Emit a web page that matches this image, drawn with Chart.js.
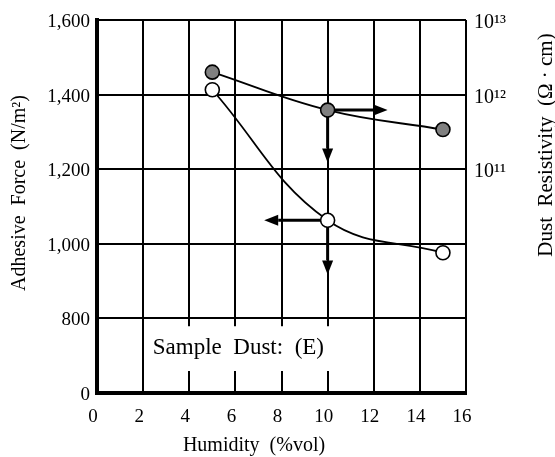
<!DOCTYPE html>
<html>
<head>
<meta charset="utf-8">
<script src="https://cdn.jsdelivr.net/npm/chart.js@4/dist/chart.umd.min.js"></script>
<style>body{margin:0;background:#fff;}</style>
</head>
<body>
<canvas id="dustChart" width="555" height="457"></canvas>
<script>
// humidity (%vol) for both series
var humidity = [5, 10, 15];
// open circles -> left axis, adhesive force N/m2
var adhesiveForce = [1413, 1063, 976];
// filled circles -> right axis, dust resistivity ohm*cm
var resistivity = [2.0e12, 6.2e11, 3.4e11];

var xTicks = [0, 2, 4, 6, 8, 10, 12, 14, 16];
// left axis is broken: bottom line is labelled 0
var forceTicks = [600, 800, 1000, 1200, 1400, 1600];
var forceTickLabels = ['0', '800', '1,000', '1,200', '1,400', '1,600'];
var resistTicks = [1e11, 1e12, 1e13];
var resistTickLabels = ['10\u00B9\u00B9', '10\u00B9\u00B2', '10\u00B9\u00B3'];

// arrows pointing to the axis each curve belongs to (axis units)
var arrows = [
    {axis: 'yR', x0: 10, y0: 6.2e11, x1: 12.6, y1: 6.2e11},
    {axis: 'yR', x0: 10, y0: 6.2e11, x1: 10, y1: 1.23e11},
    {axis: 'yL', x0: 10, y0: 1063, x1: 7.25, y1: 1063},
    {axis: 'yL', x0: 10, y0: 1063, x1: 10, y1: 918}
];

var serif = "'Liberation Serif', 'DejaVu Serif', serif";

function toPoints(ys) {
    return humidity.map(function (x, i) { return {x: x, y: ys[i]}; });
}

var decor = {
    id: 'decor',
    beforeDatasetsDraw: function (chart) {
        var c = chart.ctx, sx = chart.scales.x, sy = chart.scales.yL;
        // white label box over the grid
        var bx0 = sx.getPixelForValue(2.05), bx1 = sx.getPixelForValue(10.9);
        var by0 = sy.getPixelForValue(779), by1 = sy.getPixelForValue(659);
        c.save();
        c.fillStyle = '#fff';
        c.fillRect(bx0, by0, bx1 - bx0, by1 - by0);
        c.fillStyle = '#000';
        c.font = '23px ' + serif;
        c.textBaseline = 'alphabetic';
        c.fillText('Sample  Dust:  (E)', sx.getPixelForValue(2.42), sy.getPixelForValue(705));
        // arrows
        arrows.forEach(function (a) {
            var ys = chart.scales[a.axis];
            var px0 = sx.getPixelForValue(a.x0), py0 = ys.getPixelForValue(a.y0);
            var px1 = sx.getPixelForValue(a.x1), py1 = ys.getPixelForValue(a.y1);
            var ang = Math.atan2(py1 - py0, px1 - px0);
            var hl = 14, hw = 5.5;
            var bx = px1 - hl * Math.cos(ang), by = py1 - hl * Math.sin(ang);
            c.strokeStyle = '#000';
            c.lineWidth = 3;
            c.beginPath();
            c.moveTo(px0, py0);
            c.lineTo(bx, by);
            c.stroke();
            c.beginPath();
            c.moveTo(px1, py1);
            c.lineTo(bx + hw * Math.sin(ang), by - hw * Math.cos(ang));
            c.lineTo(bx - hw * Math.sin(ang), by + hw * Math.cos(ang));
            c.closePath();
            c.fill();
        });
        c.restore();
    },
    afterDraw: function (chart) {
        var c = chart.ctx;
        c.save();
        c.fillStyle = '#000';
        c.font = '20px ' + serif;
        c.textAlign = 'center';
        c.textBaseline = 'middle';
        c.fillText('Humidity  (%vol)', 254, 446);
        c.translate(20, 193);
        c.rotate(-Math.PI / 2);
        c.fillText('Adhesive  Force  (N/m\u00B2)', 0, 0);
        c.restore();
        c.save();
        c.fillStyle = '#000';
        c.font = '21px ' + serif;
        c.textAlign = 'center';
        c.textBaseline = 'middle';
        c.translate(546, 145);
        c.rotate(-Math.PI / 2);
        c.fillText('Dust  Resistivity  (\u03A9 \u00B7 cm)', 0, 0);
        c.restore();
    }
};

var ctx = document.getElementById('dustChart').getContext('2d');
var dustChart = new Chart(ctx, {
    type: 'line',
    data: {
        datasets: [{
            label: 'Dust Resistivity',
            data: toPoints(resistivity),
            yAxisID: 'yR',
            borderColor: '#000',
            borderWidth: 1.8,
            pointBackgroundColor: '#808080',
            pointBorderColor: '#000',
            pointBorderWidth: 1.6,
            pointRadius: 7,
            tension: 0.4,
            fill: false
        }, {
            label: 'Adhesive Force',
            data: toPoints(adhesiveForce),
            yAxisID: 'yL',
            borderColor: '#000',
            borderWidth: 1.8,
            pointBackgroundColor: '#fff',
            pointBorderColor: '#000',
            pointBorderWidth: 1.6,
            pointRadius: 7,
            tension: 0.4,
            fill: false
        }]
    },
    options: {
        responsive: false,
        animation: false,
        layout: {padding: {top: 16, left: 0, right: 0, bottom: 0}},
        plugins: {legend: {display: false}, tooltip: {enabled: false}},
        scales: {
            x: {
                type: 'linear',
                min: 0,
                max: 16,
                afterBuildTicks: function (s) { s.ticks = xTicks.map(function (v) { return {value: v}; }); },
                afterFit: function (s) { s.height = 64; },
                ticks: {color: '#000', font: {family: serif, size: 19}, padding: 13, labelOffset: -4, maxRotation: 0},
                grid: {color: '#000', lineWidth: 2, drawTicks: false},
                border: {color: '#000', width: 4}
            },
            yL: {
                type: 'linear',
                position: 'left',
                min: 600,
                max: 1600,
                afterBuildTicks: function (s) { s.ticks = forceTicks.map(function (v) { return {value: v}; }); },
                afterFit: function (s) { s.width = 97; },
                ticks: {
                    color: '#000', font: {family: serif, size: 19}, padding: 7, labelOffset: 2,
                    callback: function (v) { return forceTickLabels[forceTicks.indexOf(v)]; }
                },
                grid: {color: '#000', lineWidth: 2, drawTicks: false},
                border: {color: '#000', width: 4}
            },
            yR: {
                type: 'logarithmic',
                position: 'right',
                min: 1e8,
                max: 1e13,
                afterBuildTicks: function (s) { s.ticks = resistTicks.map(function (v) { return {value: v}; }); },
                afterFit: function (s) { s.width = 89; },
                ticks: {
                    color: '#000', font: {family: serif, size: 20}, padding: 8, labelOffset: 3,
                    callback: function (v) { return resistTickLabels[resistTicks.indexOf(v)]; }
                },
                grid: {display: false, drawTicks: false},
                border: {display: false}
            }
        }
    },
    plugins: [decor]
});
</script>
</body>
</html>
